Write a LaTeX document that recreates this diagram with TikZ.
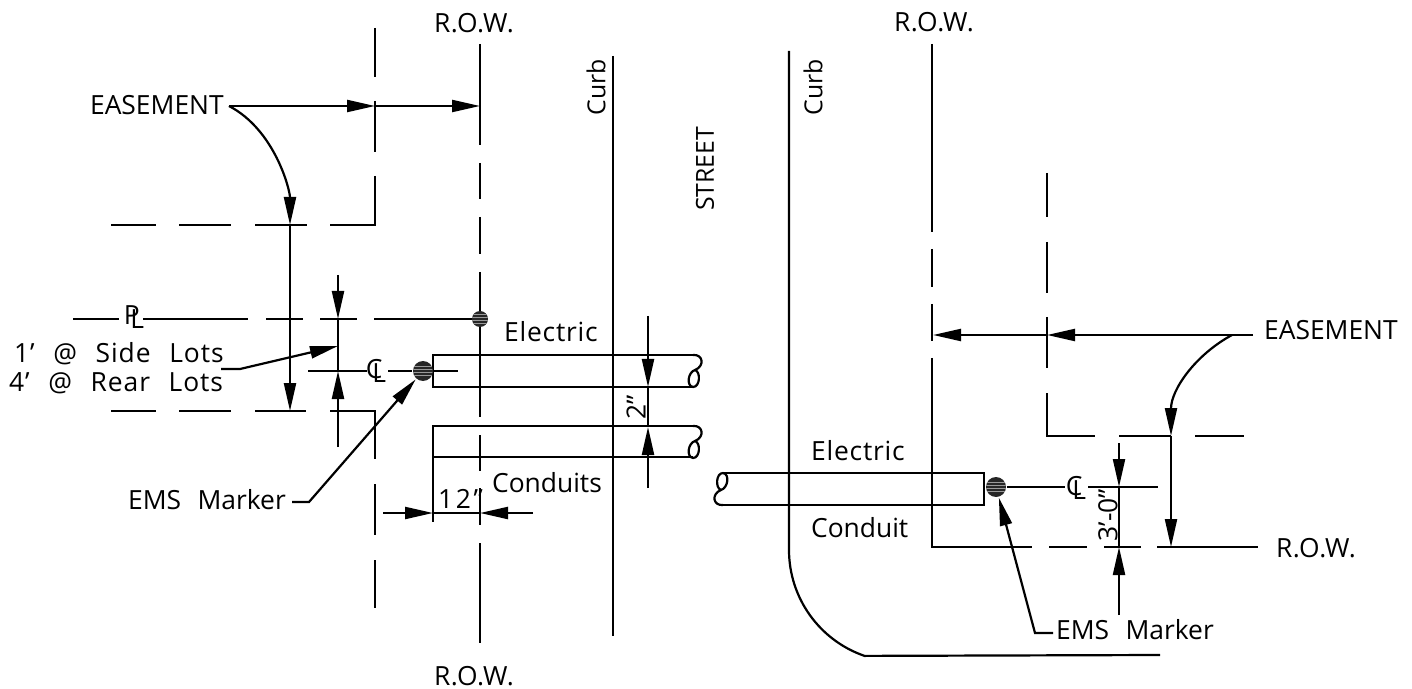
\documentclass[tikz,border=0pt]{standalone}
\usepackage{fontspec}
\setmainfont[WordSpace=2.4]{Open Sans}
\usetikzlibrary{arrows.meta}
\tikzset{
	cadline/.style={line width=1.1pt},
	dimhead/.style={-{Triangle[length=14pt,width=6pt]}},
	cadtext/.style={inner sep=0pt, anchor=base west, font=\fontsize{13.2pt}{15pt}\selectfont},
	widetext/.style={cadtext, font=\fontsize{13.2pt}{15pt}\selectfont\addfontfeature{LetterSpace=#1}},
	sidetext/.style={inner sep=0pt, rotate=90, font=\fontsize{12.4pt}{15pt}\selectfont},
	emsdot/.style={circle, fill=black!85, inner sep=0pt, minimum size=10pt, path picture={
		\foreach \k in {-9,-3,3,9} \draw[black!40, line width=.2pt] ([yshift=\k*.25pt]path picture bounding box.west) -- ([yshift=\k*.25pt]path picture bounding box.east);}},
}
\newcommand{\symtext}[1]{\rlap{#1}\kern3.2pt\raisebox{-2.2pt}{L}}
\begin{document}
\begin{tikzpicture}[x=0.5pt, y=-0.5pt, cadline]
			\useasboundingbox (0,0) rectangle (1412,689);
			\node[widetext=2] (rowA)at(433, 33) {R.O.W.};
			\node[widetext=2] (rowB)at(433, 685) {R.O.W.};
			\node[widetext=2] (rowC)at(893, 32) {R.O.W.};
			\node[widetext=2] (rowD)at(1275, 557) {R.O.W.};
			\node[cadtext] (easeL)at(89, 115) {EASEMENT};
			\node[cadtext] (easeR)at(1263, 340) {EASEMENT};
			\node[widetext=3.5] (lotA)at(13, 363) {1' @ Side Lots};
			\node[widetext=3.5] (lotB)at(8, 392) {4' @ Rear Lots};
			\node[cadtext] (markerL)at(127, 509) {EMS Marker};
			\node[cadtext] (markerR)at(1055, 639) {EMS Marker};
			\node[widetext=3] (elecL)at(503, 342) {Electric};
			\node[cadtext] (condL)at(491, 492) {Conduits};
			\node[widetext=3] (elecR)at(810, 460) {Electric};
			\node[cadtext] (condR)at(810, 537) {Conduit};
			\node[widetext=10] (twelve)at(437, 508) {12''};
			\node[cadtext, rotate=90, anchor=center] (two)at(636, 407) {2''};
			\node[cadtext, rotate=90, anchor=center] (three)at(1108, 515) {3'-0''};
			\node[sidetext] (curbL)at(596, 87) {Curb};
			\node[sidetext] (curbR)at(813, 87) {Curb};
			\node[sidetext] (street)at(705, 169) {STREET};
			\node[cadtext, anchor=center] (plSym)at(134, 317) {\symtext{P}};
			\node[cadtext, anchor=center] (clL)at(376, 371) {\symtext{C}};
			\node[cadtext, anchor=center] (clR)at(1076, 488) {\symtext{C}};

			\foreach \ya/\yb in {44/145, 163/199, 217/254, 272/417, 435/471, 488/525, 543/643} \draw (480, \ya) -- (480, \yb);
			\foreach \ya/\yb in {28/77, 101/152, 484/535, 560/608} \draw (375, \ya) -- (375, \yb);
			\draw (375, 176) -- (375, 225) -- (330, 225);
			\foreach \xa/\xb in {111/156, 179/231, 255/307} \draw (\xa, 225) -- (\xb, 225);
			\draw (330, 411) -- (375, 411) -- (375, 459);
			\foreach \xa/\xb in {111/156, 179/231, 255/306} \draw (\xa, 411) -- (\xb, 411);
			\foreach \xa/\xb in {73/119, 143/248, 266/303, 320/357, 374/480} \draw (\xa, 319) -- (\xb, 319);

			\draw (613, 56) -- (613, 636);
			\draw (789, 51) -- (789, 550) arc[start angle=180, end angle=109, radius=112] -- (1160, 655);

			\foreach \ya/\yb in {44/232, 249/287, 304/341} \draw (932, \ya) -- (932, \yb);
			\draw (932, 358) -- (932, 547) -- (1032, 547);
			\foreach \xa/\xb in {1049/1087, 1104/1141, 1157/1258} \draw (\xa, 547) -- (\xb, 547);
			\foreach \ya/\yb in {173/217, 242/293, 317/368} \draw (1047, \ya) -- (1047, \yb);
			\draw (1047, 393) -- (1047, 436) -- (1095, 436);
			\foreach \xa/\xb in {1119/1171, 1195/1244} \draw (\xa, 436) -- (\xb, 436);

			\draw (693, 355) -- (433, 355) -- (433, 387) -- (693, 387);
			\draw (693, 426) -- (433, 426) -- (433, 522);
			\draw (433, 457) -- (693, 457);
			\draw (723, 473) -- (984, 473) -- (984, 505) -- (723, 505);
			\foreach \xb/\yb/\sg in {693/355/1, 693/426/1, 723/505/-1}
				\draw[shift={(\xb, \yb)}, scale=\sg] (0, 0) .. controls (10, -1) and (12, 11) .. (2, 15) .. controls (-5, 17) and (-7, 31) .. (0, 32) .. controls (7, 32) and (8, 17) .. (2, 15);

			\node[emsdot, minimum size=8pt] (dotPL)at(480, 319) {};
			\node[emsdot] (dotL)at(423, 371) {};
			\node[emsdot] (dotR)at(996, 487) {};

			\coordinate (easeLa)at(229, 106);
			\coordinate (easeLb)at(375, 106);
			\coordinate (easeLc)at(480, 106);
			\coordinate (easeLd)at(290, 225);
			\coordinate (easeLe)at(290, 411);
			\draw[dimhead] (easeLa) -- (easeLb);
			\draw[dimhead] (easeLb) -- (easeLc);
			\draw[dimhead] (easeLa) .. controls (275, 130) and (290, 190) .. (easeLd);
			\draw[dimhead] (easeLd) -- (easeLe);

			\coordinate (easeRa)at(1232, 335);
			\coordinate (easeRb)at(1253, 335);
			\coordinate (easeRc)at(1047, 335);
			\coordinate (easeRd)at(933, 335);
			\coordinate (easeRe)at(1171, 436);
			\coordinate (easeRf)at(1171, 547);
			\draw[dimhead] (easeRb) -- (easeRc);
			\draw[dimhead] (easeRc) -- (easeRd);
			\draw[dimhead] (easeRa) .. controls (1195, 355) and (1171, 390) .. (easeRe);
			\draw[dimhead] (easeRe) -- (easeRf);

			\draw[dimhead] (338, 275) -- (338, 319);
			\draw (338, 319) -- (338, 372);
			\draw[dimhead] (338, 447) -- (338, 371);
			\draw[dimhead] (648, 316) -- (648, 387);
			\draw[dimhead] (648, 488) -- (648, 427);
			\draw (648, 387) -- (648, 427);
			\draw[dimhead] (383, 513) -- (433, 513);
			\draw (433, 513) -- (480, 513);
			\draw[dimhead] (533, 513) -- (480, 513);
			\draw[dimhead] (1119, 443) -- (1119, 487);
			\draw (1119, 487) -- (1119, 547);
			\draw[dimhead] (1119, 615) -- (1119, 547);

			\draw (308, 371) -- (367, 371);
			\draw (388, 371) -- (dotL.west);
			\draw (dotL.east) -- (458, 371);
			\draw (dotR.east) -- (1065, 487);
			\draw (1088, 487) -- (1158, 487);

			\coordinate (lotKnee)at(240, 369);
			\draw[dimhead] (221, 369) -- (lotKnee) -- (338, 346);
			\coordinate (markerLa)at(292, 502);
			\coordinate (markerLb)at(309, 502);
			\draw[dimhead] (markerLa) -- (markerLb) -- (dotL);
			\coordinate (markerRa)at(1053, 633);
			\coordinate (markerRb)at(1035, 633);
			\draw[dimhead] (markerRa) -- (markerRb) -- (dotR);
		\end{tikzpicture}
\end{document}
